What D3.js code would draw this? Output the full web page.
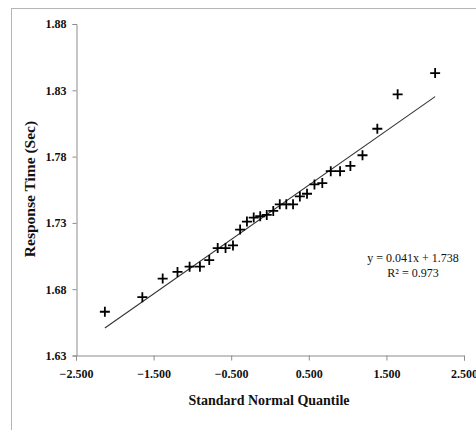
<!DOCTYPE html>
<html>
<head>
<meta charset="utf-8">
<script src="https://cdn.jsdelivr.net/npm/d3@7"></script>
<style>
  body { margin: 0; background: #fff; }
  svg { display: block; }
  text { font-family: "Liberation Serif", "Times New Roman", serif; }
</style>
</head>
<body>
<svg width="476" height="430"></svg>
<script>
// normal quantiles (x) and response times (y)
var quantiles = [-2.128, -1.645, -1.383, -1.192, -1.036, -0.903, -0.783, -0.674, -0.573, -0.477,
                 -0.385, -0.297, -0.210, -0.126, -0.042, 0.042, 0.126, 0.210, 0.297, 0.385,
                 0.477, 0.573, 0.674, 0.783, 0.903, 1.036, 1.192, 1.383, 1.645, 2.128];
var responseTimes = [1.663, 1.674, 1.688, 1.693, 1.697, 1.697, 1.702, 1.711, 1.711, 1.713,
                     1.725, 1.731, 1.734, 1.735, 1.736, 1.739, 1.744, 1.744, 1.744, 1.750,
                     1.752, 1.759, 1.760, 1.769, 1.769, 1.773, 1.781, 1.801, 1.827, 1.843];
var xTicks = [-2.5, -1.5, -0.5, 0.5, 1.5, 2.5];
var yTicks = [1.63, 1.68, 1.73, 1.78, 1.83, 1.88];
var slope = 0.041, intercept = 1.738, rSquared = 0.973;

var svg = d3.select("svg");

// outer frame (clipped at the right and bottom)
svg.append("rect")
    .attr("x", 11.5).attr("y", 8.5)
    .attr("width", 500).attr("height", 460)
    .attr("fill", "none")
    .attr("stroke", "#b5b5b5");

var x = d3.scaleLinear().domain([-2.5, 2.5]).range([76, 464]);
var y = d3.scaleLinear().domain([1.63, 1.88]).range([355.5, 24]);

var xAxis = svg.append("g")
    .attr("transform", "translate(0,355.5)")
    .call(d3.axisBottom(x).tickValues(xTicks).tickFormat(d3.format(".3f")).tickSizeOuter(0).tickSize(5));
var yAxis = svg.append("g")
    .attr("transform", "translate(76.5,0)")
    .call(d3.axisLeft(y).tickValues(yTicks).tickFormat(d3.format(".2f")).tickSizeOuter(0).tickSize(4));

[xAxis, yAxis].forEach(function(a) {
    a.select(".domain").attr("stroke", "#8c8c8c");
    a.selectAll(".tick line").attr("stroke", "#8c8c8c");
    a.selectAll("text")
        .attr("fill", "#111")
        .style("font-family", "'Liberation Serif', serif")
        .style("font-weight", "bold")
        .style("font-size", "12px");
});
xAxis.selectAll("text").attr("dy", "1.05em").attr("y", 10);
yAxis.selectAll("text").attr("x", -10);

// regression line
var xr = d3.extent(quantiles);
svg.append("line")
    .attr("x1", x(xr[0])).attr("y1", y(slope * xr[0] + intercept))
    .attr("x2", x(xr[1])).attr("y2", y(slope * xr[1] + intercept))
    .attr("stroke", "#333")
    .attr("stroke-width", 1.1);

// plus markers
svg.append("g").selectAll("path")
    .data(d3.zip(quantiles, responseTimes))
    .enter().append("path")
    .attr("d", function(d) {
        var cx = x(d[0]), cy = y(d[1]), r = 5;
        return "M" + (cx - r) + "," + cy + "H" + (cx + r) + "M" + cx + "," + (cy - r) + "V" + (cy + r);
    })
    .attr("stroke", "#000")
    .attr("stroke-width", 1.8);

// equation
svg.append("text")
    .attr("x", 413).attr("y", 262)
    .attr("text-anchor", "middle")
    .style("font-size", "12px")
    .attr("fill", "#111")
    .text("y = " + slope + "x + " + intercept);
svg.append("text")
    .attr("x", 413).attr("y", 277)
    .attr("text-anchor", "middle")
    .style("font-size", "12px")
    .attr("fill", "#111")
    .text("R\u00b2 = " + rSquared);

// axis titles
svg.append("text")
    .attr("x", 269).attr("y", 405)
    .attr("text-anchor", "middle")
    .style("font-size", "14px")
    .style("font-weight", "bold")
    .attr("fill", "#111")
    .text("Standard Normal Quantile");
svg.append("text")
    .attr("transform", "translate(35,189) rotate(-90)")
    .attr("text-anchor", "middle")
    .style("font-size", "15.5px")
    .style("font-weight", "bold")
    .attr("fill", "#111")
    .text("Response Time (Sec)");
</script>
</body>
</html>
